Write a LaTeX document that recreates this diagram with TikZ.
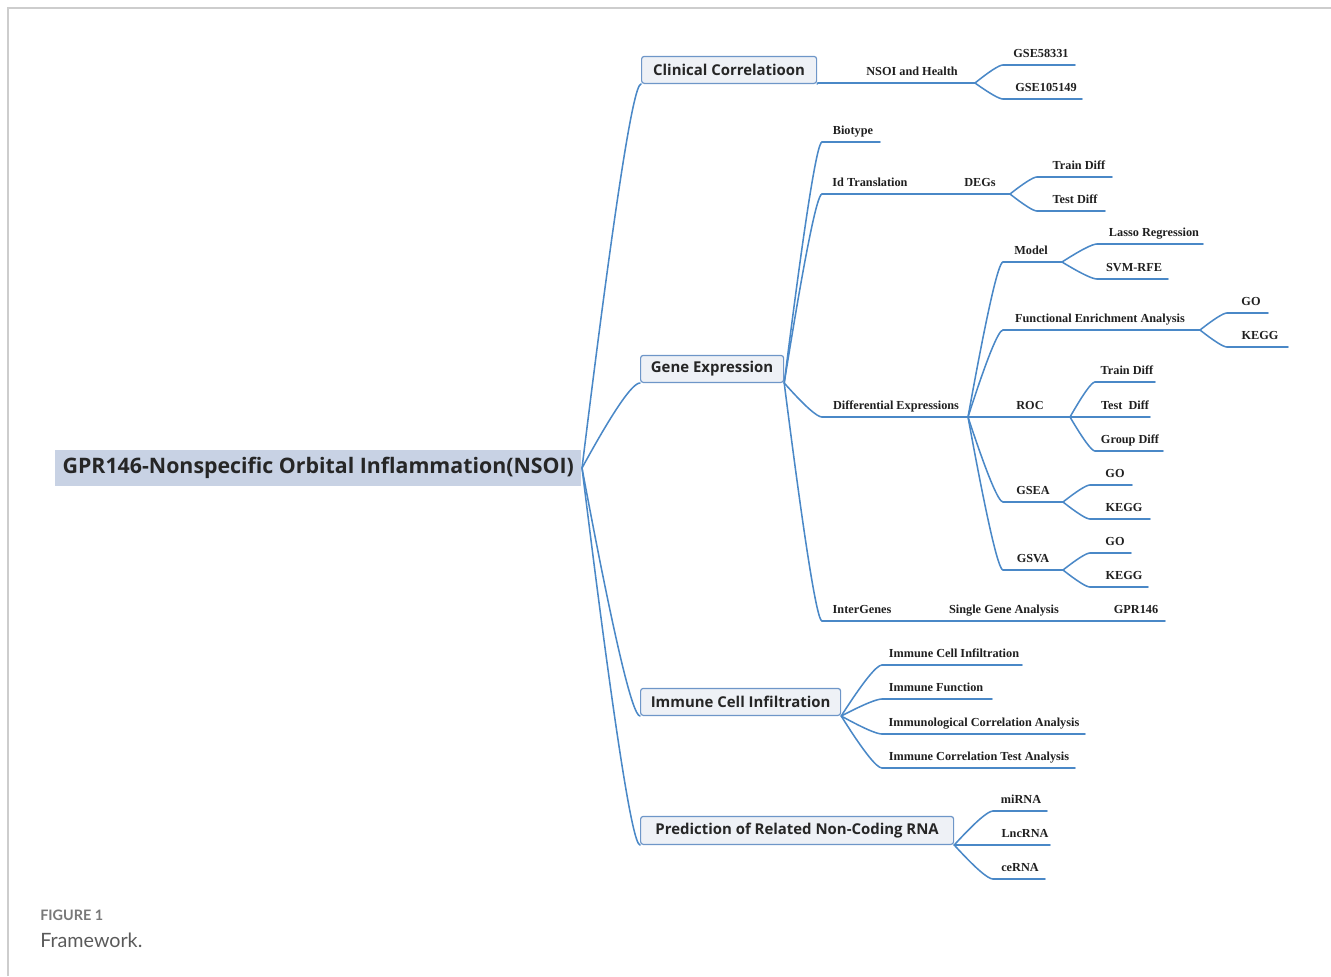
\documentclass[tikz,border=0pt]{standalone}
\usepackage{fontspec}
\setmainfont{Liberation Serif}
\newfontfamily\osans{Open Sans}
\newfontfamily\latofont{Lato}
\usetikzlibrary{calc}
\definecolor{lnblue}{RGB}{74,136,199}
\definecolor{boxfill}{RGB}{238,241,246}
\definecolor{boxdraw}{RGB}{110,150,200}
\definecolor{rootfill}{RGB}{200,210,228}
\definecolor{captxt}{RGB}{120,120,120}
\definecolor{capmain}{RGB}{90,90,90}
\definecolor{framegray}{RGB}{205,205,205}
\tikzset{
  ln/.style={draw=lnblue, line width=1.15pt, line cap=round},
  leaf/.style={font=\bfseries\fontsize{9.2}{11}\selectfont, text=black!88, inner sep=0pt, anchor=base},
  branchbox/.style={draw=boxdraw, fill=boxfill, rounded corners=2pt, line width=0.9pt,
     font=\osans\bfseries\fontsize{11.2}{13}\selectfont, inner sep=0pt, text=black!85, anchor=south west},
  rootbox/.style={fill=rootfill, font=\osans\bfseries\fontsize{16}{19}\selectfont, inner sep=0pt,
     text=black!85, anchor=south west},
}
\newcommand\mmconn[2]{\draw[ln] let \p1=(#1), \p2=(#2) in (\p1) .. controls ({\x1+0.5333*(\x2-\x1)},{\y1+0.6667*(\y2-\y1)}) and ({\x2-0.1333*(\x2-\x1)},{\y2}) .. (\p2);}
\newcommand\tp[6]{%
  \coordinate (#1-s) at (#2,#4);
  \coordinate (#1-e) at (#3,#4);
  \node[leaf] (#1) at (#5,{#4-8}) {#6};
  \draw[ln] (#1-s) -- (#1-e);}
\begin{document}
\begin{tikzpicture}[x=0.75pt,y=-0.75pt]
\useasboundingbox (0,0) rectangle (1331,976);
\draw[framegray, line width=1.1pt] (8,976) -- (8,8) -- (1331,8);

% root
\node[rootbox, minimum width=394.5pt, minimum height=27pt] (root) at (55,486) {GPR146-Nonspecific Orbital Inflammation(NSOI)};
\coordinate (root-e) at (582,468);

% main branches
\node[branchbox, minimum width=131.25pt, minimum height=20.25pt] (clin) at (641,84) {Clinical Correlatioon};
\node[branchbox, minimum width=107.25pt, minimum height=20.25pt] (gene) at (640,383) {Gene Expression};
\node[branchbox, minimum width=150pt, minimum height=20.25pt] (immu) at (640,716) {Immune Cell Infiltration};
\node[branchbox, minimum width=234.75pt, minimum height=21pt] (pred) at (640,845) {Prediction of Related Non-Coding RNA};
\mmconn{root-e}{clin.south west}
\mmconn{root-e}{gene.south west}
\mmconn{root-e}{immu.south west}
\mmconn{root-e}{pred.south west}

% clinical
\tp{nsoi}{818}{975}{83}{912}{NSOI and Health}
\tp{gsea1}{1003}{1075}{65}{1041}{GSE58331}
\tp{gseb}{1003}{1082}{99}{1046}{GSE105149}
\mmconn{clin.south east}{nsoi-s}
\mmconn{nsoi-e}{gsea1-s}
\mmconn{nsoi-e}{gseb-s}

% gene expression
\tp{bio}{822}{880}{142}{853}{Biotype}
\tp{idt}{822}{945}{194}{870}{Id Translation}
\tp{degs}{945}{1010}{194}{980}{DEGs}
\tp{trd}{1037}{1112}{177}{1079}{Train Diff}
\tp{ted}{1037}{1105}{211}{1075}{Test Diff}
\tp{dex}{822}{968}{417}{896}{Differential Expressions}
\tp{intg}{822}{920}{621}{862}{InterGenes}
\tp{sga}{920}{1090}{621}{1004}{Single Gene Analysis}
\tp{gpr}{1090}{1165}{621}{1136}{GPR146}
\mmconn{gene.south east}{bio-s}
\mmconn{gene.south east}{idt-s}
\mmconn{gene.south east}{dex-s}
\mmconn{gene.south east}{intg-s}
\draw[ln] (idt-e) -- (degs-s);
\mmconn{degs-e}{trd-s}
\mmconn{degs-e}{ted-s}
\draw[ln] (intg-e) -- (sga-s);
\draw[ln] (sga-e) -- (gpr-s);

% differential expressions
\tp{model}{1003}{1062}{262}{1031}{Model}
\tp{lasso}{1097}{1203}{244}{1154}{Lasso Regression}
\tp{svm}{1097}{1168}{279}{1134}{SVM-RFE}
\tp{fea}{1003}{1200}{330}{1100}{Functional Enrichment Analysis}
\tp{fgo}{1227}{1268}{313}{1251}{GO}
\tp{fkegg}{1227}{1288}{347}{1260}{KEGG}
\tp{roc}{1003}{1070}{417}{1030}{ROC}
\tp{rtr}{1095}{1155}{382}{1127}{Train Diff}
\tp{rte}{1095}{1150}{417}{1125}{Test\ \ Diff}
\tp{rgr}{1095}{1163}{451}{1130}{Group Diff}
\tp{gsea}{1003}{1063}{502}{1033}{GSEA}
\tp{sgo}{1090}{1132}{485}{1115}{GO}
\tp{skegg}{1090}{1150}{519}{1124}{KEGG}
\tp{gsva}{1003}{1063}{570}{1033}{GSVA}
\tp{vgo}{1090}{1131}{553}{1115}{GO}
\tp{vkegg}{1090}{1148}{587}{1124}{KEGG}
\mmconn{dex-e}{model-s}
\mmconn{dex-e}{fea-s}
\draw[ln] (dex-e) -- (roc-s);
\mmconn{dex-e}{gsea-s}
\mmconn{dex-e}{gsva-s}
\mmconn{model-e}{lasso-s}
\mmconn{model-e}{svm-s}
\mmconn{fea-e}{fgo-s}
\mmconn{fea-e}{fkegg-s}
\mmconn{roc-e}{rtr-s}
\draw[ln] (roc-e) -- (rte-s);
\mmconn{roc-e}{rgr-s}
\mmconn{gsea-e}{sgo-s}
\mmconn{gsea-e}{skegg-s}
\mmconn{gsva-e}{vgo-s}
\mmconn{gsva-e}{vkegg-s}

% immune
\tp{ici}{882}{1022}{665}{954}{Immune Cell Infiltration}
\tp{ifn}{882}{992}{699}{936}{Immune Function}
\tp{ica}{882}{1085}{734}{984}{Immunological Correlation Analysis}
\tp{icta}{882}{1075}{768}{979}{Immune Correlation Test Analysis}
\mmconn{immu.south east}{ici-s}
\mmconn{immu.south east}{ifn-s}
\mmconn{immu.south east}{ica-s}
\mmconn{immu.south east}{icta-s}

% prediction
\tp{mir}{993}{1047}{811}{1021}{miRNA}
\tp{lnc}{993}{1050}{845}{1025}{LncRNA}
\tp{cer}{993}{1045}{879}{1020}{ceRNA}
\mmconn{pred.south east}{mir-s}
\draw[ln] (pred.south east) -- (lnc-s);
\mmconn{pred.south east}{cer-s}

% caption
\node[anchor=base west, inner sep=0pt, font=\latofont\bfseries\fontsize{10.8}{13}\selectfont, text=captxt] (fig) at (40,920) {FIGURE 1};
\node[anchor=base west, inner sep=0pt, font=\latofont\fontsize{14.8}{17}\selectfont, text=capmain] (cap) at (40,947) {Framework.};
\end{tikzpicture}
\end{document}
